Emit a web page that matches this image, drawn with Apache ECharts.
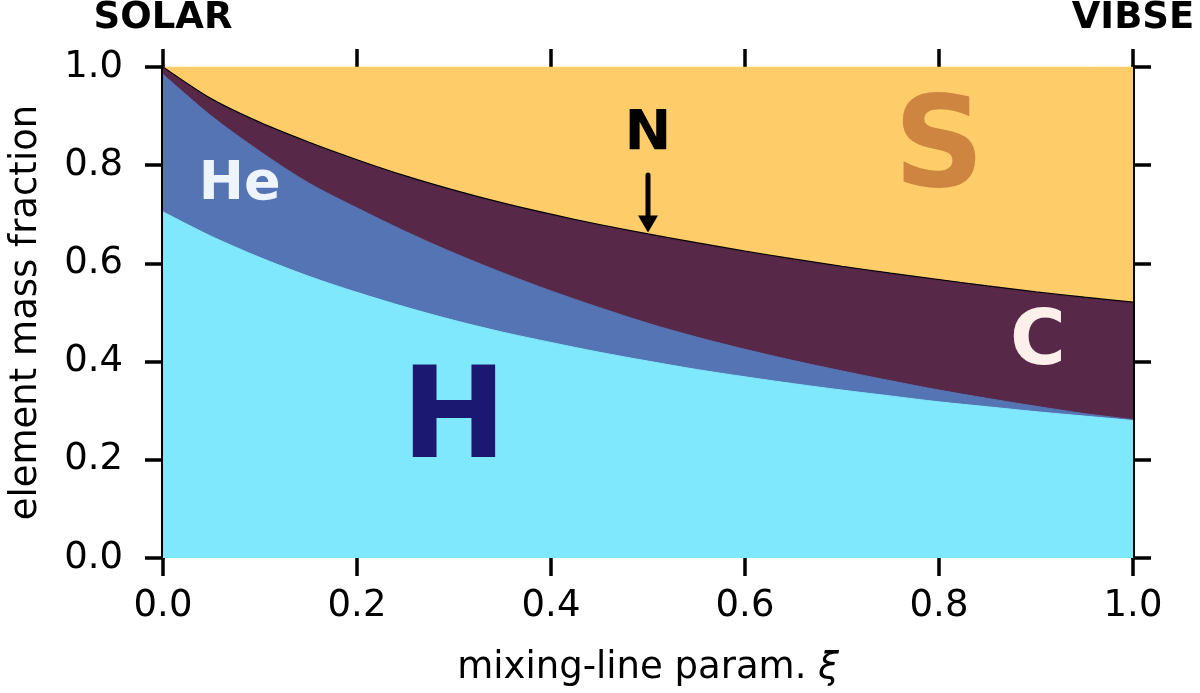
<!DOCTYPE html>
<html>
<head>
<meta charset="utf-8">
<script src="https://cdn.jsdelivr.net/npm/echarts@6/dist/echarts.min.js"></script>
<style>
  html, body { margin: 0; padding: 0; background: #fff; }
  #chart { width: 1200px; height: 693px; }
</style>
</head>
<body>
<div id="chart"></div>
<script>
// mixing-line parameter (0 = solar, 1 = VIBSE)
const xi = [0, 0.05, 0.1, 0.15, 0.2, 0.25, 0.3, 0.35, 0.4, 0.45, 0.5,
            0.55, 0.6, 0.65, 0.7, 0.75, 0.8, 0.85, 0.9, 0.95, 1.0];
// element mass fractions, stacked from the bottom
const hydrogen = [0.705, 0.655, 0.612, 0.574, 0.541, 0.511, 0.484, 0.460, 0.439, 0.419, 0.401,
                  0.384, 0.369, 0.355, 0.342, 0.330, 0.318, 0.308, 0.298, 0.289, 0.280];
const helium   = [0.280, 0.245, 0.216, 0.190, 0.172, 0.154, 0.137, 0.121, 0.105, 0.091, 0.077,
                  0.066, 0.056, 0.047, 0.039, 0.031, 0.024, 0.017, 0.011, 0.005, 0.002];
const carbon   = [0.013, 0.033, 0.057, 0.081, 0.096, 0.111, 0.126, 0.140, 0.154, 0.167, 0.180,
                  0.190, 0.198, 0.205, 0.211, 0.217, 0.223, 0.227, 0.231, 0.235, 0.237];
const nitrogen = [0.002, 0.002, 0.002, 0.002, 0.002, 0.002, 0.002, 0.002, 0.002, 0.002, 0.002,
                  0.002, 0.002, 0.002, 0.002, 0.002, 0.002, 0.002, 0.002, 0.002, 0.002];
const sulfur   = [0.000, 0.065, 0.113, 0.153, 0.189, 0.222, 0.251, 0.277, 0.300, 0.321, 0.340,
                  0.358, 0.375, 0.391, 0.406, 0.420, 0.433, 0.446, 0.458, 0.469, 0.479];
const axisTicks = [0, 0.2, 0.4, 0.6, 0.8, 1.0];
const endLabels = ["SOLAR", "VIBSE"];

const FONT = "DejaVu Sans";
const chart = echarts.init(document.getElementById("chart"));

// running totals, so every element is drawn as a band on top of the ones below
const layers = [
  { name: "H", values: hydrogen, color: "#80e8fd" },
  { name: "He", values: helium, color: "#5574b3" },
  { name: "C", values: carbon, color: "#582849" },
  { name: "N", values: nitrogen, color: "#000000", width: 1.4 },
  { name: "S", values: sulfur, color: "#fecd6a" },
];
let running = xi.map(() => 0);
layers.forEach((l) => {
  running = running.map((v, i) => v + l.values[i]);
  l.top = running.slice();
});

// draw the highest boundary first, lower ones over it
const series = layers.slice().reverse().map((l) => ({
  name: l.name,
  type: "line",
  data: xi.map((x, i) => [x, Math.min(l.top[i], 1)]),
  smooth: 0.3,
  showSymbol: false,
  symbol: "none",
  lineStyle: { color: l.color, width: l.width || 1 },
  areaStyle: { color: l.color, opacity: 1, origin: "start" },
  silent: true,
}));

function ticks() {
  return { show: true, inside: false, length: 18, lineStyle: { color: "#000", width: 3.5 } };
}
function spine(visible) {
  return { show: true, onZero: false, lineStyle: { color: visible ? "#000" : "rgba(0,0,0,0)", width: visible ? 4 : 0 } };
}

const option = {
  animation: false,
  grid: { left: 160, right: 67, top: 66, bottom: 135 },
  xAxis: [
    {
      type: "value",
      min: 0,
      max: 1,
      interval: 0.2,
      position: "bottom",
      name: "mixing-line param. {i|ξ}",
      nameLocation: "middle",
      nameGap: 92,
      nameTextStyle: {
        fontFamily: FONT, fontSize: 37, color: "#000",
        rich: { i: { fontFamily: FONT, fontSize: 37, fontStyle: "italic", color: "#000" } },
      },
      axisLine: spine(false),
      axisTick: ticks(),
      splitLine: { show: false },
      axisLabel: {
        margin: 30,
        fontFamily: FONT,
        fontSize: 37,
        color: "#000",
        formatter: (v) => v.toFixed(1),
      },
    },
    {
      type: "value",
      min: 0,
      max: 1,
      interval: 0.2,
      position: "top",
      axisLine: spine(false),
      axisTick: ticks(),
      splitLine: { show: false },
      axisLabel: {
        margin: 30,
        fontFamily: FONT,
        fontSize: 37,
        fontWeight: "bold",
        color: "#000",
        formatter: (v) => (v === axisTicks[0] ? endLabels[0] : v === axisTicks[5] ? endLabels[1] : ""),
      },
    },
  ],
  yAxis: [
    {
      type: "value",
      min: 0,
      max: 1,
      interval: 0.2,
      position: "left",
      name: "element mass fraction",
      nameLocation: "middle",
      nameGap: 118,
      nameTextStyle: { fontFamily: FONT, fontSize: 37, color: "#000" },
      axisLine: spine(true),
      axisTick: ticks(),
      splitLine: { show: false },
      axisLabel: {
        margin: 40,
        fontFamily: FONT,
        fontSize: 37,
        color: "#000",
        formatter: (v) => v.toFixed(1),
      },
    },
    {
      type: "value",
      min: 0,
      max: 1,
      interval: 0.2,
      position: "right",
      axisLine: spine(true),
      axisTick: ticks(),
      splitLine: { show: false },
      axisLabel: { show: false },
    },
  ],
  series: series,
};
chart.setOption(option);

// element labels inside the areas, placed in data coordinates
const labels = [
  { text: "He", x: 0.079, y: 0.76, size: 54, color: "#eef4fd" },
  { text: "H", x: 0.300, y: 0.272, size: 126, color: "#1a1870" },
  { text: "S", x: 0.800, y: 0.825, size: 126, color: "#cd853f" },
  { text: "C", x: 0.902, y: 0.435, size: 76, color: "#fdf0ea" },
  { text: "N", x: 0.500, y: 0.862, size: 56, color: "#000000" },
];
const toPx = (p) => chart.convertToPixel({ xAxisIndex: 0, yAxisIndex: 0 }, p);
const graphics = labels.map((l) => {
  const p = toPx([l.x, l.y]);
  return {
    type: "text",
    x: p[0],
    y: p[1],
    z: 100,
    style: {
      text: l.text,
      fontFamily: FONT,
      fontWeight: "bold",
      fontSize: l.size,
      fill: l.color,
      align: "center",
      verticalAlign: "middle",
    },
  };
});
// arrow from the N label down to the N line
const a0 = toPx([0.5, 0.78]);
const a1 = toPx([0.5, 0.663]);
graphics.push({
  type: "line",
  z: 100,
  shape: { x1: a0[0], y1: a0[1], x2: a1[0], y2: a1[1] - 14 },
  style: { stroke: "#000", lineWidth: 5, lineCap: "round" },
});
graphics.push({
  type: "polygon",
  z: 100,
  shape: { points: [[a1[0] - 10, a1[1] - 17], [a1[0] + 10, a1[1] - 17], [a1[0], a1[1]]] },
  style: { fill: "#000" },
});
chart.setOption({ graphic: graphics });
</script>
</body>
</html>
